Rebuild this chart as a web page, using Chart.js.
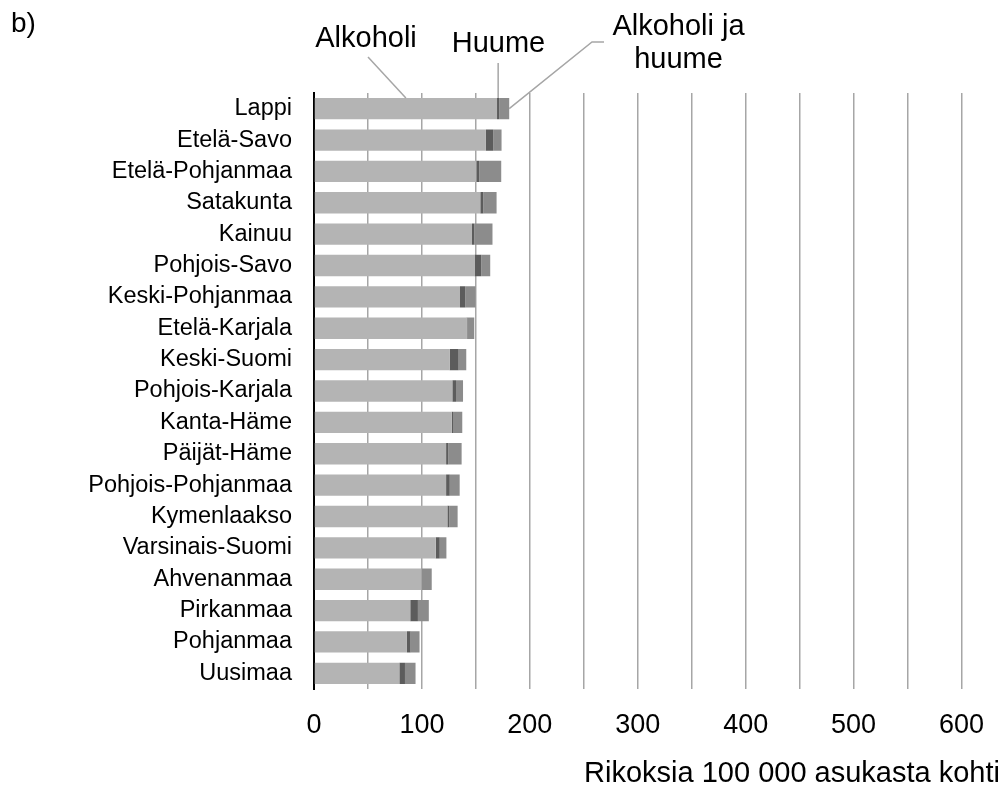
<!DOCTYPE html>
<html>
<head>
<meta charset="utf-8">
<script src="https://cdn.jsdelivr.net/npm/chart.js@4/dist/chart.umd.min.js"></script>
<style>
  html, body { margin: 0; padding: 0; background: #ffffff; }
  #wrap { position: relative; width: 1004px; height: 785px; }
  canvas { display: block; }
</style>
</head>
<body>
<div id="wrap"><canvas id="c" width="1004" height="785"></canvas></div>
<script>
// ---- data ----
const categories = ["Lappi", "Etelä-Savo", "Etelä-Pohjanmaa", "Satakunta", "Kainuu", "Pohjois-Savo",
  "Keski-Pohjanmaa", "Etelä-Karjala", "Keski-Suomi", "Pohjois-Karjala", "Kanta-Häme", "Päijät-Häme",
  "Pohjois-Pohjanmaa", "Kymenlaakso", "Varsinais-Suomi", "Ahvenanmaa", "Pirkanmaa", "Pohjanmaa", "Uusimaa"];
const alkoholi = [169.6, 159.3, 150.4, 154.1, 146.4, 148.8, 135.3, 141.4, 125.7, 128.2, 127.6, 122.4, 122.4, 123.6, 112.8, 99.6, 89.2, 86.1, 79.1];
const huume = [2.1, 6.8, 2.8, 2.8, 2.1, 6.2, 4.9, 0.6, 8.3, 3.4, 1.2, 2.1, 3.4, 1.8, 3.7, 0, 7.1, 3.4, 5.2];
const alkoholiJaHuume = [9.2, 7.7, 20.3, 12.3, 16.9, 8.3, 9.5, 6.5, 7.1, 6.5, 8.6, 12.3, 9.2, 7.7, 6.2, 9.5, 10.1, 8.3, 9.8];
const seriesNames = ["Alkoholi", "Huume", "Alkoholi ja huume"];
const xTickLabels = [0, 100, 200, 300, 400, 500, 600];
const axisTitle = "Rikoksia 100 000 asukasta kohti";
const panelLabel = "b)";

const FONT = '"Liberation Sans", Arial, Helvetica, sans-serif';
const GRID = '#a6a6a6';

const annotate = {
  id: 'annotate',
  afterDraw(chart) {
    const ctx = chart.ctx;
    const m0 = chart.getDatasetMeta(0).data[0];
    const m1 = chart.getDatasetMeta(1).data[0];
    const m2 = chart.getDatasetMeta(2).data[0];
    ctx.save();
    // leader lines
    ctx.strokeStyle = GRID;
    ctx.lineWidth = 1.5;
    const top0 = m0.y - m0.height / 2;
    ctx.beginPath();
    ctx.moveTo(368, 57);
    ctx.lineTo((m0.x + m0.base) / 2, top0);
    ctx.stroke();
    ctx.beginPath();
    const hx = (m1.x + m1.base) / 2;
    ctx.moveTo(hx, 63);
    ctx.lineTo(hx, m1.y - m1.height / 2);
    ctx.stroke();
    ctx.beginPath();
    ctx.moveTo(m2.x, m2.y);
    ctx.lineTo(592, 42);
    ctx.lineTo(604, 42);
    ctx.stroke();
    // texts
    ctx.fillStyle = '#000';
    ctx.textBaseline = 'alphabetic';
    ctx.font = '28px ' + FONT;
    ctx.textAlign = 'left';
    ctx.fillText(panelLabel, 11, 32);
    ctx.font = '29px ' + FONT;
    ctx.textAlign = 'center';
    ctx.fillText(seriesNames[0], 366, 47);
    ctx.fillText(seriesNames[1], 498.5, 52);
    ctx.fillText('Alkoholi ja', 678.5, 35);
    ctx.fillText('huume', 678.5, 68);
    ctx.textAlign = 'right';
    ctx.fillText(axisTitle, 1000, 782);
    ctx.restore();
  }
};

new Chart(document.getElementById('c'), {
  type: 'bar',
  data: {
    labels: categories,
    datasets: [
      { label: seriesNames[0], data: alkoholi, backgroundColor: '#b4b4b4' },
      { label: seriesNames[1], data: huume, backgroundColor: '#5c5c5c' },
      { label: seriesNames[2], data: alkoholiJaHuume, backgroundColor: '#8c8c8c' }
    ]
  },
  options: {
    indexAxis: 'y',
    responsive: false,
    animation: false,
    devicePixelRatio: 1,
    layout: { padding: { left: 0, right: 37, top: 93, bottom: 0 } },
    datasets: { bar: { barPercentage: 0.68, categoryPercentage: 1.0, borderWidth: 0 } },
    plugins: { legend: { display: false }, tooltip: { enabled: false }, title: { display: false } },
    scales: {
      x: {
        stacked: true,
        min: 0, max: 600,
        afterFit(scale) { scale.height = 96; },
        border: { display: false },
        grid: {
          drawTicks: false,
          color: (c) => (c.tick && c.tick.value === 0) ? 'rgba(0,0,0,0)' : GRID,
          lineWidth: 1.5
        },
        ticks: {
          stepSize: 50,
          padding: 20,
          color: '#000',
          font: { family: FONT, size: 27 },
          maxRotation: 0,
          autoSkip: false,
          callback: (v) => xTickLabels.includes(v) ? String(v) : ''
        }
      },
      y: {
        stacked: true,
        afterFit(scale) { scale.width = 314; },
        border: { display: true, color: '#000', width: 2 },
        grid: { display: false, drawTicks: false },
        ticks: {
          padding: 22,
          color: '#000',
          font: { family: FONT, size: 23.5 },
          autoSkip: false
        }
      }
    }
  },
  plugins: [annotate]
});
</script>
</body>
</html>
